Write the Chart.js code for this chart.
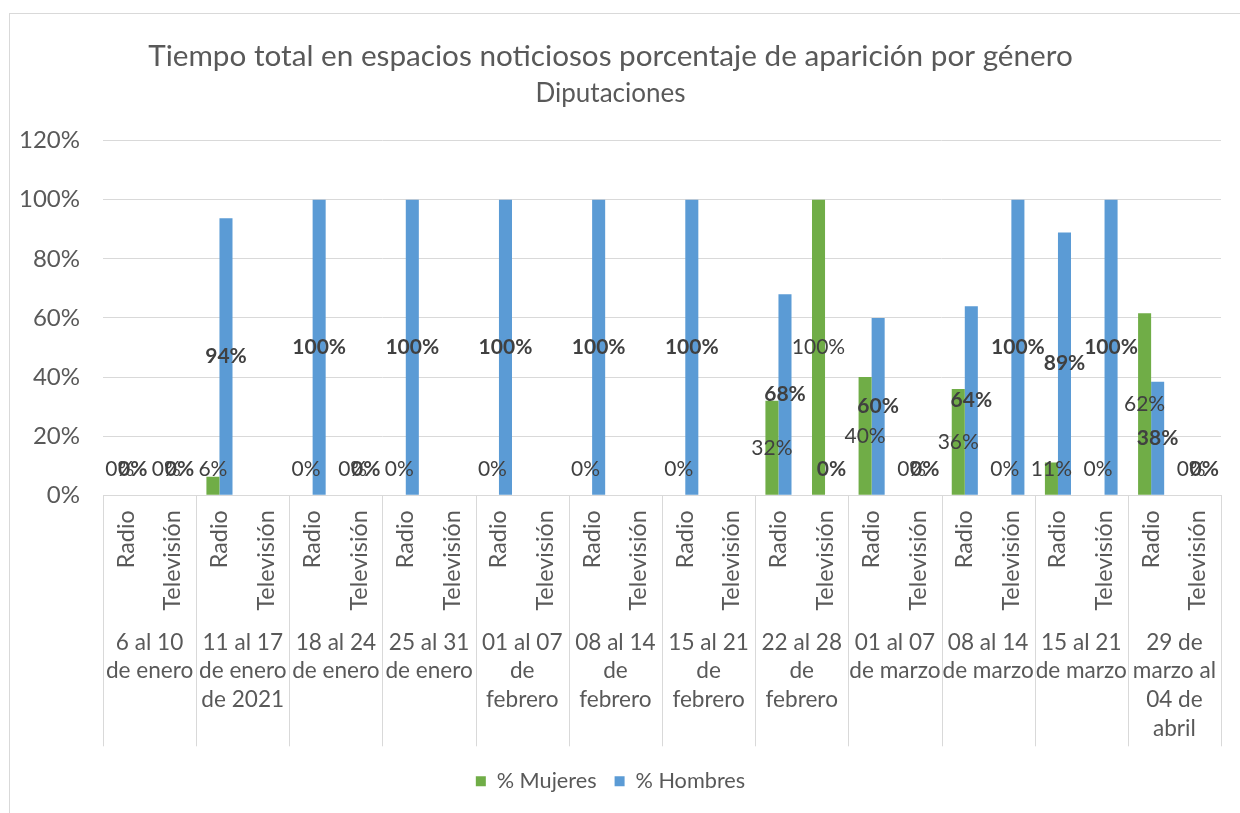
<!DOCTYPE html>
<html>
<head>
<meta charset="utf-8">
<script src="https://cdn.jsdelivr.net/npm/chart.js@4"></script>
<style>
  body { margin: 0; background: #fff; }
  #marco { position: absolute; left: 9px; top: 13px; width: 1240px; height: 820px; border: 1px solid #d9d9d9; }
  #wrap { position: absolute; left: 0; top: 0; width: 1240px; height: 813px; }
</style>
</head>
<body>
<div id="marco"></div>
<div id="wrap"><canvas id="grafico" width="1240" height="813"></canvas></div>
<script>
// semanas (segundo nivel del eje) y medios (primer nivel)
var semanas = [
  ['6 al 10', 'de enero'],
  ['11 al 17', 'de enero', 'de 2021'],
  ['18 al 24', 'de enero'],
  ['25 al 31', 'de enero'],
  ['01 al 07', 'de', 'febrero'],
  ['08 al 14', 'de', 'febrero'],
  ['15 al 21', 'de', 'febrero'],
  ['22 al 28', 'de', 'febrero'],
  ['01 al 07', 'de marzo'],
  ['08 al 14', 'de marzo'],
  ['15 al 21', 'de marzo'],
  ['29 de', 'marzo al', '04 de', 'abril']
];
var medios = ['Radio', 'Televisión'];

// % por categoria (Radio, Televisión de cada semana); null = sin dato
var mujeres = [0, 0, 6.3, null, 0, 0, 0, null, 0, null, 0, null, 0, null, 32, 100, 40, 0, 36, 0, 11.1, 0, 61.6, 0];
var hombres = [0, 0, 93.7, null, 100, 0, 100, null, 100, null, 100, null, 100, null, 68, 0, 60, 0, 64, 100, 88.9, 100, 38.4, 0];

var ticksY = [0, 20, 40, 60, 80, 100, 120];

var categorias = [];
semanas.forEach(function () {
  medios.forEach(function (m) { categorias.push(m); });
});

var gris = '#595959';
var linea = '#d9d9d9';
var fuente = 'Lato';

// etiquetas de datos (centradas en la barra, sin bajar del eje)
var etiquetasDatos = {
  id: 'etiquetasDatos',
  afterDatasetsDraw: function (chart) {
    var ctx = chart.ctx;
    var y0 = chart.scales.y.getPixelForValue(0);
    chart.data.datasets.forEach(function (ds, i) {
      var meta = chart.getDatasetMeta(i);
      meta.data.forEach(function (barra, j) {
        var v = ds.data[j];
        if (v === null) return;
        var y = Math.min((barra.y + barra.base) / 2, y0 - 26);
        ctx.save();
        ctx.font = (i === 1 ? 'bold ' : '') + '21px ' + fuente;
        ctx.fillStyle = '#404040';
        ctx.textAlign = 'center';
        ctx.textBaseline = 'middle';
        ctx.fillText(Math.round(v) + '%', barra.x, y);
        ctx.restore();
      });
    });
  }
};

// lineas entre semanas en el eje de categorias
var separadores = {
  id: 'separadores',
  afterDraw: function (chart) {
    var x = chart.scales.x, x2 = chart.scales.x2, ctx = chart.ctx;
    var ancho = x.getPixelForValue(1) - x.getPixelForValue(0);
    ctx.save();
    ctx.strokeStyle = linea;
    ctx.lineWidth = 1;
    for (var g = 0; g <= semanas.length; g++) {
      var px = Math.round(x.getPixelForValue(2 * g) - ancho / 2) + 0.5;
      ctx.beginPath();
      ctx.moveTo(px, x.top);
      ctx.lineTo(px, x2.top + 131);
      ctx.stroke();
    }
    ctx.restore();
  }
};

var ctx = document.getElementById('grafico').getContext('2d');
var chart = new Chart(ctx, {
  type: 'bar',
  data: {
    labels: categorias,
    datasets: [
      {
        label: '% Mujeres',
        data: mujeres,
        backgroundColor: '#70AD47',
        borderWidth: 0,
        categoryPercentage: 0.56,
        barPercentage: 1.0
      },
      {
        label: '% Hombres',
        data: hombres,
        backgroundColor: '#5B9BD5',
        borderWidth: 0,
        categoryPercentage: 0.56,
        barPercentage: 1.0
      }
    ]
  },
  options: {
    responsive: false,
    animation: false,
    layout: { padding: { left: 0, right: 19, top: 0, bottom: 11 } },
    plugins: {
      title: {
        display: true,
        text: 'Tiempo total en espacios noticiosos porcentaje de aparición por género',
        color: gris,
        font: { family: fuente, size: 29.7, weight: 'normal', lineHeight: 1.2 },
        padding: { top: 39, bottom: 0 }
      },
      subtitle: {
        display: true,
        text: 'Diputaciones',
        color: gris,
        font: { family: fuente, size: 26, weight: 'normal', lineHeight: 1.2 },
        padding: { top: 3.6, bottom: 31.2 }
      },
      legend: {
        position: 'bottom',
        labels: {
          boxWidth: 10,
          boxHeight: 10,
          padding: 18,
          color: gris,
          font: { family: fuente, size: 21.7 }
        }
      },
      tooltip: { enabled: false }
    },
    scales: {
      y: {
        min: 0,
        max: 120,
        afterBuildTicks: function (s) { s.ticks = ticksY.map(function (v) { return { value: v }; }); },
        afterFit: function (s) { s.width = 103; },
        grid: { color: linea, drawTicks: false },
        border: { display: false },
        ticks: {
          color: gris,
          padding: 23,
          font: { family: fuente, size: 24 },
          callback: function (v) { return v + '%'; }
        }
      },
      x: {
        afterFit: function (s) { s.height = 120; },
        grid: { display: false },
        border: { display: true, color: linea },
        ticks: {
          color: gris,
          padding: 7,
          autoSkip: false,
          minRotation: 90,
          maxRotation: 90,
          font: { family: fuente, size: 23.3 }
        }
      },
      x2: {
        type: 'category',
        labels: semanas,
        position: 'bottom',
        offset: true,
        afterFit: function (s) { s.height = 137; },
        grid: { display: false },
        border: { display: false },
        ticks: {
          color: gris,
          padding: 4.5,
          autoSkip: false,
          minRotation: 0,
          maxRotation: 0,
          font: { family: fuente, size: 22.6, lineHeight: 1.28 }
        }
      }
    }
  },
  plugins: [etiquetasDatos, separadores]
});
</script>
</body>
</html>
